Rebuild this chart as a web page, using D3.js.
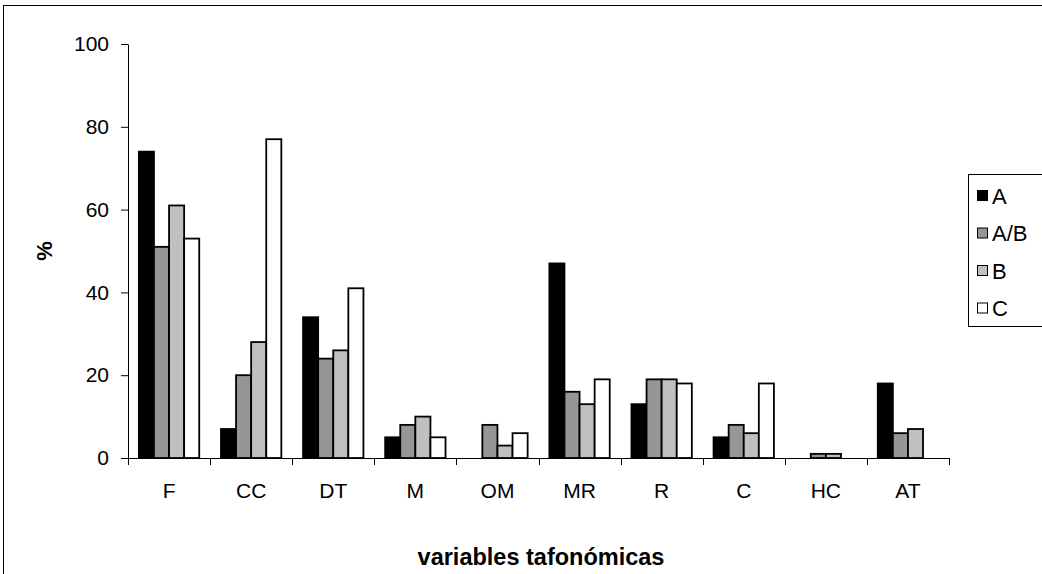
<!DOCTYPE html>
<html>
<head>
<meta charset="utf-8">
<script src="https://cdn.jsdelivr.net/npm/d3@7"></script>
<style>
  body { margin: 0; background: #fff; }
  text { font-family: Arial, "Liberation Sans", sans-serif; }
</style>
</head>
<body>
<div id="chart"></div>
<script>
// categories and series
var categories = ["F", "CC", "DT", "M", "OM", "MR", "R", "C", "HC", "AT"];
var seriesNames = ["A", "A/B", "B", "C"];
var valuesA  = [74, 7, 34, 5, 0, 47, 13, 5, 0, 18];
var valuesAB = [51, 20, 24, 8, 8, 16, 19, 8, 1, 6];
var valuesB  = [61, 28, 26, 10, 3, 13, 19, 6, 1, 7];
var valuesC  = [53, 77, 41, 5, 6, 19, 18, 18, 0, 0];
var yTicks = [0, 20, 40, 60, 80, 100];

var colors = { "A": "#000000", "A/B": "#969696", "B": "#c0c0c0", "C": "#ffffff" };

var width = 1042, height = 574;
var plot = { left: 128, right: 949, top: 44, bottom: 458 };

var svg = d3.select("#chart").append("svg")
    .attr("width", width)
    .attr("height", height);

// outer frame of the chart area
svg.append("rect")
    .attr("x", 3.5).attr("y", 5.5)
    .attr("width", 1040).attr("height", 600)
    .style("fill", "none")
    .style("stroke", "#000")
    .style("stroke-width", "1px");

// table of rows: one per category
var table = categories.map(function(c, i) {
  return { cat: c, "A": valuesA[i], "A/B": valuesAB[i], "B": valuesB[i], "C": valuesC[i] };
});

var x0 = d3.scaleBand()
    .domain(categories)
    .range([plot.left, plot.right])
    .padding(0);

var x1 = d3.scaleBand()
    .domain(seriesNames)
    .range([0, x0.bandwidth()])
    .paddingInner(0)
    .paddingOuter(0.72);

var y = d3.scaleLinear()
    .domain([0, 100])
    .range([plot.bottom, plot.top]);

// bars
var groups = svg.append("g").attr("class", "bars")
  .selectAll("g")
  .data(table)
  .enter().append("g")
    .attr("transform", function(d) { return "translate(" + x0(d.cat) + ",0)"; });

groups.selectAll("rect")
  .data(function(d) {
    return seriesNames
      .filter(function(s) { return d[s] > 0; })
      .map(function(s) { return { key: s, value: d[s] }; });
  })
  .enter().append("rect")
    .attr("x", function(d) { return x1(d.key); })
    .attr("y", function(d) { return y(d.value); })
    .attr("width", x1.bandwidth())
    .attr("height", function(d) { return y(0) - y(d.value); })
    .style("fill", function(d) { return colors[d.key]; })
    .style("stroke", "#000")
    .style("stroke-width", "1.8px");

// y axis
var yAxis = svg.append("g")
    .attr("transform", "translate(" + plot.left + ",0)")
    .call(d3.axisLeft(y).tickValues(yTicks).tickSize(7).tickPadding(12).tickSizeOuter(0));
yAxis.selectAll("text")
    .style("font-size", "21px")
    .style("fill", "#000");
yAxis.selectAll("line, path").style("stroke", "#000");

// x axis: labels centred, ticks on category boundaries
var xAxis = svg.append("g")
    .attr("transform", "translate(0," + plot.bottom + ")")
    .call(d3.axisBottom(x0).tickSize(0).tickPadding(25).tickSizeOuter(0));
xAxis.selectAll("text")
    .style("font-size", "21px")
    .style("fill", "#000");
xAxis.select("path").style("stroke", "#000");

var bounds = categories.map(function(c) { return x0(c); }).concat([plot.right]);
xAxis.selectAll("line.bound")
  .data(bounds)
  .enter().append("line")
    .attr("class", "bound")
    .attr("x1", function(d) { return Math.round(d) + 0.5; })
    .attr("x2", function(d) { return Math.round(d) + 0.5; })
    .attr("y1", 0)
    .attr("y2", 7)
    .style("stroke", "#000");

// axis titles
svg.append("text")
    .attr("x", 541)
    .attr("y", 565)
    .style("text-anchor", "middle")
    .style("font-weight", "bold")
    .style("font-size", "23.5px")
    .text("variables tafonómicas");

svg.append("text")
    .attr("transform", "translate(52," + ((plot.top + plot.bottom) / 2) + ") rotate(-90)")
    .style("text-anchor", "middle")
    .style("font-weight", "bold")
    .style("font-size", "22px")
    .text("%");

// legend
var legend = svg.append("g").attr("transform", "translate(968,174)");
legend.append("rect")
    .attr("x", 0.5).attr("y", 0.5)
    .attr("width", 120).attr("height", 152)
    .style("fill", "#fff")
    .style("stroke", "#000");

var items = legend.selectAll("g.item")
  .data(seriesNames)
  .enter().append("g")
    .attr("class", "item")
    .attr("transform", function(d, i) { return "translate(0," + (22 + i * 37.5) + ")"; });

items.append("rect")
    .attr("x", 9.5).attr("y", -5.5)
    .attr("width", 10).attr("height", 10)
    .style("fill", function(d) { return colors[d]; })
    .style("stroke", "#000");

items.append("text")
    .attr("x", 24)
    .attr("y", 0)
    .attr("dy", "0.36em")
    .style("font-size", "22px")
    .text(function(d) { return d; });
</script>
</body>
</html>
